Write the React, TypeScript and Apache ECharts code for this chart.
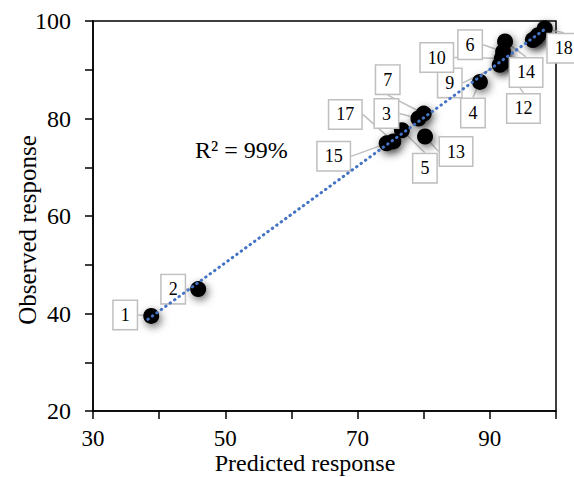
import React, { useEffect, useRef } from "react";
import * as echarts from "echarts";

const runIds = [1, 2, 3, 4, 5, 6, 7, 8, 9, 10, 11, 12, 13, 14, 15, 16, 17, 18];
const predicted = [38.8, 45.9, 79.2, 88.5, 76.7, 92.0, 80.0, 96.5, 91.5, 91.8, 97.0, 91.9, 80.2, 92.3, 74.4, 97.3, 75.4, 98.3];
const observed = [39.5, 45.0, 80.0, 87.5, 77.6, 93.7, 81.0, 96.1, 91.0, 92.3, 96.6, 91.5, 76.3, 95.8, 74.9, 97.1, 75.3, 98.5];
const hiddenLabels = [8, 11, 16];
const fitLine = [[38.3, 38.8], [98.6, 98.6]];
const xTickLabels = [30, 50, 70, 90];
const yTickLabels = [20, 40, 60, 80, 100];
const rSquaredText = "R² = 99%";

// label box offsets (px) from each point, by run id
const labelOffsets: Record<number, [number, number]> = {
  1: [-26, -1], 2: [-25, 0], 3: [-32, -5], 4: [-7, 31], 5: [23, 38], 6: [-33, -7],
  7: [-36, -34], 9: [-50, 18], 10: [-65, -1], 12: [21, 46], 13: [31, 15], 14: [21, 31],
  15: [-53, 13], 17: [-48, -27], 18: [19, 20],
};

const FONT = "'Liberation Serif', 'Times New Roman', serif";

export default function App() {
  const ref = useRef<HTMLDivElement>(null);
  useEffect(() => {
    const chart = echarts.init(ref.current!, null, { renderer: "svg" });
    const points = runIds.map((id, i) => ({
      value: [predicted[i], observed[i], id],
      label: { show: !hiddenLabels.includes(id) },
    }));
    chart.setOption({
      animation: false,
      backgroundColor: "#fff",
      grid: { left: 93, top: 21, right: 18, bottom: 66, show: true, borderColor: "#000", borderWidth: 1.5 },
      xAxis: {
        type: "value", min: 30, max: 100, interval: 10,
        axisLine: { show: true, lineStyle: { color: "#000", width: 1.5 } },
        axisTick: { show: true, inside: false, length: 8, lineStyle: { color: "#000", width: 1.5 } },
        splitLine: { show: false },
        axisLabel: {
          color: "#000", fontFamily: FONT, fontSize: 23, margin: 16, lineHeight: 23,
          formatter: (v: number) => (xTickLabels.includes(v) ? String(v) : ""),
        },
      },
      yAxis: {
        type: "value", min: 20, max: 100, interval: 10,
        axisLine: { show: true, lineStyle: { color: "#000", width: 1.5 } },
        axisTick: { show: true, inside: false, length: 8, lineStyle: { color: "#000", width: 1.5 } },
        splitLine: { show: false },
        axisLabel: {
          color: "#000", fontFamily: FONT, fontSize: 24, margin: 22,
          formatter: (v: number) => (yTickLabels.includes(v) ? String(v) : ""),
        },
      },
      graphic: [
        {
          type: "text", x: 305, y: 463,
          style: { text: "Predicted response", fontFamily: FONT, fontSize: 24, lineHeight: 24, fill: "#000", align: "center", verticalAlign: "middle" },
        },
        {
          type: "text", x: 27, y: 230, rotation: Math.PI / 2,
          style: { text: "Observed response", fontFamily: FONT, fontSize: 25, fill: "#000", align: "center", verticalAlign: "middle" },
        },
        {
          type: "text", x: 195, y: 150,
          style: { text: rSquaredText, fontFamily: FONT, fontSize: 24, fill: "#000", align: "left", verticalAlign: "middle" },
        },
      ],
      series: [
        {
          type: "scatter",
          data: points,
          symbolSize: 16,
          z: 2,
          itemStyle: {
            color: "#000",
            opacity: 1,
            shadowBlur: 9,
            shadowColor: "rgba(0,0,0,0.6)",
            shadowOffsetX: 2,
            shadowOffsetY: 3,
          },
          label: {
            show: true,
            position: "inside",
            formatter: (p: any) => String(p.value[2]),
            fontFamily: FONT,
            fontSize: 18,
            color: "#000",
            backgroundColor: "#fff",
            borderColor: "#BFBFBF",
            borderWidth: 1.5,
            padding: [6, 7, 4, 7],
          },
          labelLine: { show: true, lineStyle: { color: "#BFBFBF", width: 1.5 } },
          labelLayout: (params: any) => {
            const id = runIds[params.dataIndex];
            const off = labelOffsets[id] || [0, 0];
            return { dx: off[0], dy: off[1], hideOverlap: false };
          },
        },
        {
          type: "line",
          data: fitLine,
          symbol: "none",
          z: 3,
          lineStyle: { color: "#4472C4", width: 3, type: [0.5, 5], cap: "round" },
          silent: true,
        },
      ],
    });
    return () => chart.dispose();
  }, []);
  return <div ref={ref} style={{ position: "fixed", left: 0, top: 0, width: 574, height: 477 }} />;
}
